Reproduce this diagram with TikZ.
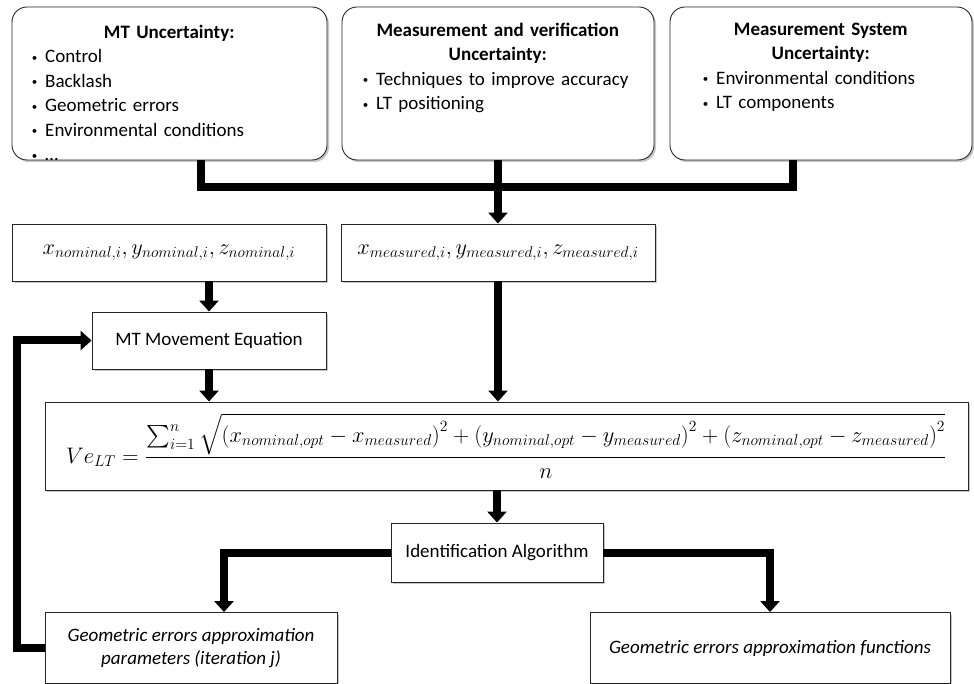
\documentclass[tikz,border=0pt]{standalone}
\usepackage{amsmath}
\usepackage{graphicx}
\usepackage{fontspec}
\setmainfont{Carlito}
\usetikzlibrary{arrows.meta,positioning,shadows}

\newcommand{\itm}[1]{\mbox{\raisebox{1.5pt}{\fontsize{11}{11}\selectfont\textbullet}\hspace{8pt}#1}}

\begin{document}
\begin{tikzpicture}[x=1pt,y=-1pt,
		ubox/.style={rectangle, rounded corners=15pt, draw=black!85, line width=0.9pt, fill=white,
			drop shadow={shadow xshift=2pt, shadow yshift=-2pt, opacity=0.45}},
		rbox/.style={rectangle, draw=black!85, line width=0.9pt, fill=white, inner sep=0pt,
			drop shadow={shadow xshift=2pt, shadow yshift=-2pt, opacity=0.45},
			font=\fontsize{19}{23}\selectfont},
		mbox/.style={rbox, font=\fontsize{17.28}{21}\selectfont},
		utext/.style={inner sep=0pt, align=left, font=\fontsize{19}{24.5}\selectfont},
		flow/.style={line width=8pt, -{Triangle[width=19pt,length=11pt]}},
		merge/.style={line width=8pt}]
		
		\useasboundingbox (0,0) rectangle (974,684);
		
		% Uncertainty boxes
		
		\node[ubox, minimum width=315pt, minimum height=153pt]
		(mtu) at (169.5,83.5) {};
		\node[ubox, minimum width=312pt, minimum height=153pt]
		(mvu) at (498,83.5) {};
		\node[ubox, minimum width=302pt, minimum height=153pt]
		(msu) at (821,83.5) {};
		
		\node[utext, text width=275pt, below right=18pt and 20pt of mtu.north west]
		(mtuText) {\makebox[\linewidth]{\textbf{MT Uncertainty:}}\\
			\itm{Control}\\ \itm{Backlash}\\ \itm{Geometric errors}\\
			\itm{Environmental conditions}\\ \itm{\ldots}};
		\node[utext, text width=270pt, below right=16pt and 21pt of mvu.north west]
		(mvuText) {\makebox[\linewidth]{\textbf{Measurement and verification}}\\
			\makebox[\linewidth]{\textbf{Uncertainty:}}\\
			\itm{Techniques to improve accuracy}\\ \itm{LT positioning}};
		\node[utext, text width=236pt, below right=16pt and 33pt of msu.north west]
		(msuText) {\makebox[\linewidth]{\textbf{Measurement System}}\\
			\makebox[\linewidth]{\textbf{Uncertainty:}}\\
			\itm{Environmental conditions}\\ \itm{LT components}};
		
		% Node
		
		\node[mbox, minimum width=314pt, minimum height=57pt]
		(nom) at (169,252.5) {\scalebox{1.29}{$x_{nominal,i},y_{nominal,i},z_{nominal,i}$}};
		\node[mbox, minimum width=314pt, minimum height=57pt]
		(meas) at (498,252.5) {\scalebox{1.29}{$x_{measured,i},y_{measured,i},z_{measured,i}$}};
		\node[rbox, minimum width=234pt, minimum height=57pt]
		(mteq) at (209,340.5) {MT Movement Equation};
		\node[mbox, minimum width=923pt, minimum height=88pt]
		(veLT) at (506.5,446) {\scalebox{1.3}{$Ve_{LT}=\dfrac{\textstyle\sum_{i=1}^{n}\sqrt{\left(x_{nominal,opt}-x_{measured}\right)^2+\left(y_{nominal,opt}-y_{measured}\right)^2+\left(z_{nominal,opt}-z_{measured}\right)^2}}{n}$}};
		\node[rbox, minimum width=212pt, minimum height=59pt]
		(ident) at (497,552.5) {Identification Algorithm};
		\node[rbox, minimum width=292pt, minimum height=71pt, align=center]
		(params) at (191,648) {\itshape Geometric errors approximation\\ \itshape parameters (iteration j)};
		\node[rbox, minimum width=360pt, minimum height=71pt]
		(func) at (770,648) {\itshape Geometric errors approximation functions};
		
		% EDGE
		
		\coordinate (jL) at (201,187);
		\coordinate (jR) at (793,187);
		\coordinate (bL) at (224,552.5);
		\coordinate (fb) at (17,340.5);
		
		\draw[merge] (mtu.south -| jL) -- (jL) -- (jR) -- (msu.south -| jR);
		\draw[flow] (mvu.south) -- (meas.north);
		\draw[flow] (nom.south -| mteq) -- (mteq.north);
		\draw[flow] (mteq.south) -- (veLT.north -| mteq);
		\draw[flow] (meas.south) -- (veLT.north -| meas);
		\draw[flow] (veLT.south -| ident) -- (ident.north);
		\draw[flow] (ident.west) -- (bL) -- (params.north -| bL);
		\draw[flow] (ident.east) -| (func.north);
		\draw[flow] (params.west) -| (fb) -- (mteq.west);
		
	\end{tikzpicture}
\end{document}
